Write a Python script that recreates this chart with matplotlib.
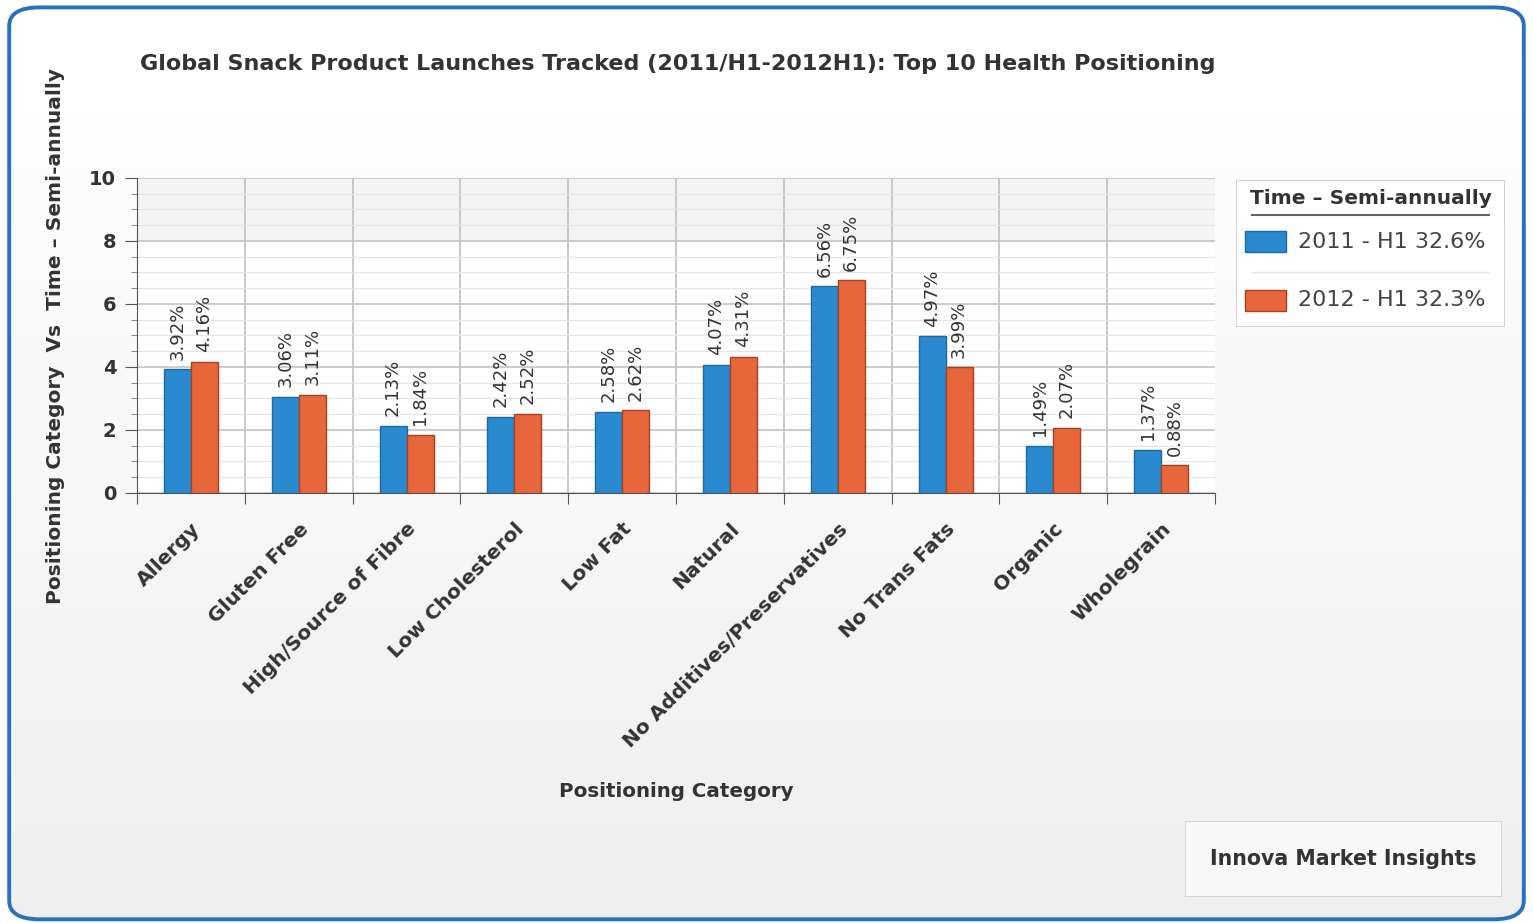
import numpy as np
import matplotlib.pyplot as plt
from matplotlib.patches import FancyBboxPatch, Rectangle
from matplotlib.ticker import MultipleLocator

# data
categories = ["Allergy", "Gluten Free", "High/Source of Fibre", "Low Cholesterol",
              "Low Fat", "Natural", "No Additives/Preservatives", "No Trans Fats",
              "Organic", "Wholegrain"]
h1_2011 = [3.92, 3.06, 2.13, 2.42, 2.58, 4.07, 6.56, 4.97, 1.49, 1.37]
h1_2012 = [4.16, 3.11, 1.84, 2.52, 2.62, 4.31, 6.75, 3.99, 2.07, 0.88]
series_names = ["2011 - H1 32.6%", "2012 - H1 32.3%"]

blue, blue_edge = "#2a8ad0", "#1d6aa3"
orange, orange_edge = "#e8663c", "#a8401e"
txt = "#333333"

fig = plt.figure(figsize=(15.33, 9.23), dpi=100)
fig.patch.set_facecolor("white")

# background axes: rounded blue frame with a soft white->gray gradient inside
bg = fig.add_axes([0, 0, 1, 1], zorder=-10)
bg.axis("off")
bg.set_xlim(0, 1)
bg.set_ylim(0, 1)
frame = FancyBboxPatch((0.006, 0.004), 0.988, 0.988, boxstyle="round,pad=0,rounding_size=0.02",
                       facecolor="none", edgecolor="#2a6fc0", linewidth=2.8, zorder=2)
bg.add_patch(frame)
grad = np.linspace(0.935, 1.0, 256).reshape(-1, 1)
img = bg.imshow(grad, extent=(0, 1, 0, 1), origin="lower", cmap="gray", vmin=0, vmax=1,
                aspect="auto", zorder=1)
img.set_clip_path(frame)

ax = fig.add_axes([0.0894, 0.4659, 0.7032, 0.3413])
ax.set_facecolor("white")
x = np.arange(len(categories))
w = 0.25
b1 = ax.bar(x - w / 2, h1_2011, w, color=blue, edgecolor=blue_edge, linewidth=1, zorder=3,
            label=series_names[0])
b2 = ax.bar(x + w / 2, h1_2012, w, color=orange, edgecolor=orange_edge, linewidth=1, zorder=3,
            label=series_names[1])

for bars, vals in ((b1, h1_2011), (b2, h1_2012)):
    for r, v in zip(bars, vals):
        ax.annotate(f"{v:.2f}%", (r.get_x() + r.get_width() / 2, v), xytext=(0, 7),
                    textcoords="offset points", rotation=90, ha="center", va="bottom",
                    fontsize=13, color=txt)

ax.set_xlim(-0.5, len(categories) - 0.5)
ax.set_ylim(0, 10)
ax.yaxis.set_major_locator(MultipleLocator(2))
ax.yaxis.set_minor_locator(MultipleLocator(0.5))
ax.grid(axis="y", which="major", color="#c4c4c4", linewidth=1.2, zorder=0)
ax.grid(axis="y", which="minor", color="#e6e6e6", linewidth=0.9, zorder=0)
for b in np.arange(0.5, len(categories) - 1, 1):
    ax.axvline(b, color="#c0c0c0", linewidth=1.2, zorder=1)
ax.axhspan(8, 10, color="#f4f4f4", zorder=0)

ax.set_xticks(np.arange(-0.5, len(categories), 1), minor=False)
ax.set_xticklabels([])
ax.set_xticks(x, minor=True)
ax.set_xticklabels(categories, minor=True, rotation=45, ha="right", rotation_mode="anchor",
                   fontsize=14.5, fontweight="bold", color=txt)
ax.tick_params(axis="x", which="major", length=8, color="#555555")
ax.tick_params(axis="x", which="minor", length=0, pad=19)
ax.tick_params(axis="y", which="major", length=9, pad=6, color="#555555", labelsize=14,
               labelcolor=txt)
ax.tick_params(axis="y", which="minor", length=4, color="#777777")
for t in ax.get_yticklabels():
    t.set_fontweight("bold")
for s in ("top", "right"):
    ax.spines[s].set_visible(False)
ax.spines["left"].set_color("#555555")
ax.spines["bottom"].set_color("#555555")

fig.text(0.0913, 0.931, "Global Snack Product Launches Tracked (2011/H1-2012H1): Top 10 Health Positioning",
         fontsize=16, fontweight="bold", color=txt, ha="left", va="center")
fig.text(0.036, 0.636, "Positioning Category  Vs  Time \u2013 Semi-annually", rotation=90,
         fontsize=14.5, fontweight="bold", color=txt, ha="center", va="center")
fig.text(0.441, 0.142, "Positioning Category", fontsize=14.3, fontweight="bold", color=txt,
         ha="center", va="center")

# legend box
lg = fig.add_axes([0.806, 0.646, 0.176, 0.159])
lg.set_xlim(0, 1)
lg.set_ylim(0, 1)
lg.axis("off")
lg.add_patch(Rectangle((0, 0), 1, 1, transform=lg.transAxes, facecolor="white",
                       edgecolor="#cccccc", linewidth=1.2))
lg.text(0.5, 0.875, "Time \u2013 Semi-annually", ha="center", va="center", fontsize=14.5,
        fontweight="bold", color=txt)
lg.plot([0.06, 0.94], [0.76, 0.76], color="#666666", linewidth=1.5)
lg.plot([0.06, 0.94], [0.37, 0.37], color="#e6e6e6", linewidth=1)
for yy, fc, ec, name in ((0.58, blue, blue_edge, series_names[0]),
                         (0.18, orange, orange_edge, series_names[1])):
    lg.add_patch(Rectangle((0.035, yy - 0.07), 0.15, 0.14, facecolor=fc, edgecolor=ec, linewidth=1))
    lg.text(0.23, yy, name, ha="left", va="center", fontsize=16, color="#444444")

# credit box
cb = fig.add_axes([0.773, 0.028, 0.207, 0.082])
cb.axis("off")
cb.add_patch(Rectangle((0, 0), 1, 1, transform=cb.transAxes, facecolor="#f8f8f8",
                       edgecolor="#d0d0d0", linewidth=1.2))
cb.text(0.5, 0.5, "Innova Market Insights", ha="center", va="center", fontsize=14.8,
        fontweight="bold", color=txt)

fig.savefig("out.png", dpi=100)
